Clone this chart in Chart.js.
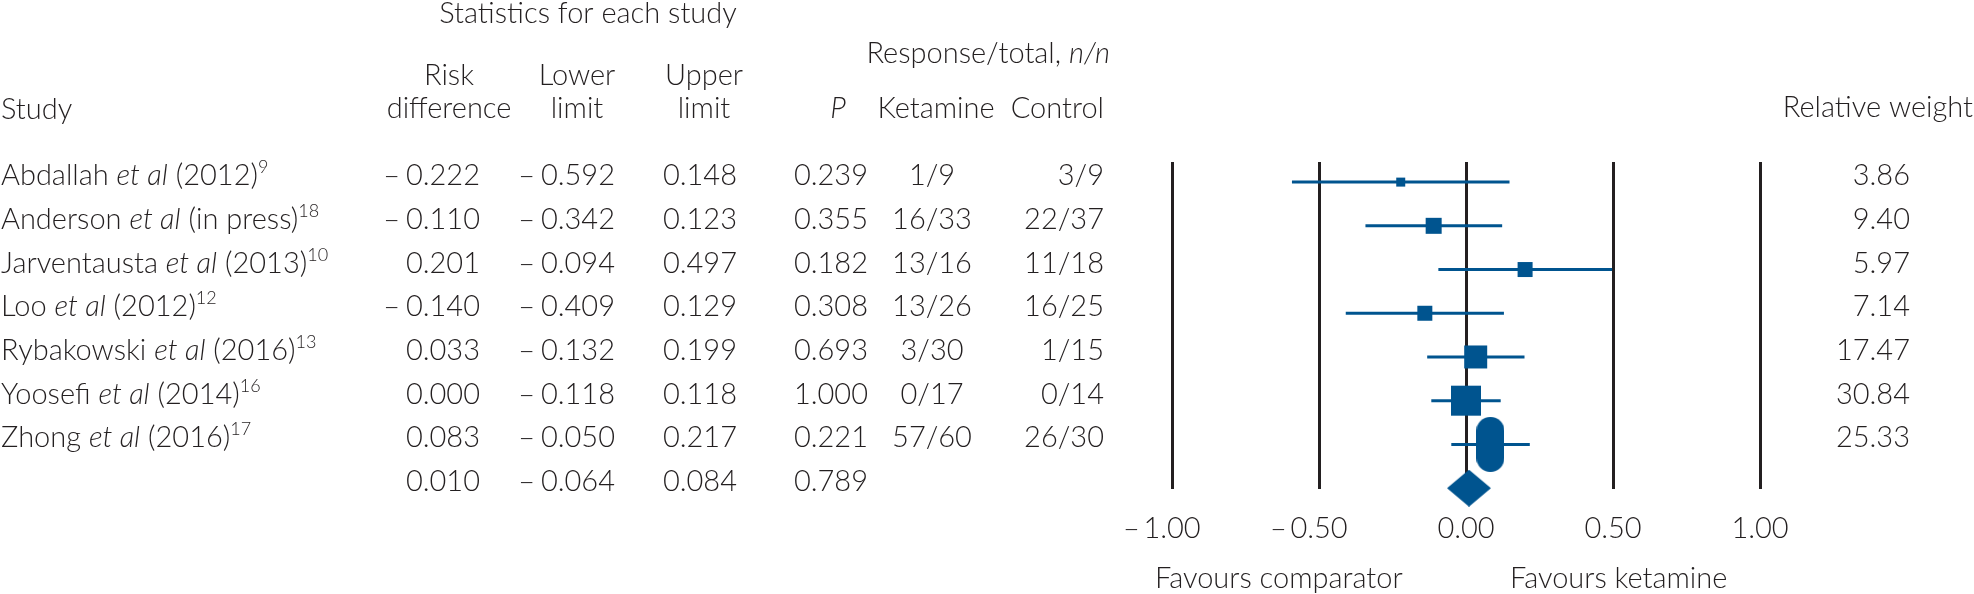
<!DOCTYPE html>
<html>
<head>
<meta charset="utf-8">
<title>Ketamine vs comparator - risk difference</title>
<script src="https://cdn.jsdelivr.net/npm/chart.js@4.4.1/dist/chart.umd.min.js"></script>
<style>
  html, body { margin: 0; padding: 0; background: #fff; }
  #wrap { position: relative; width: 1974px; height: 594px; }
</style>
</head>
<body>
<div id="wrap"><canvas id="forest"></canvas></div>
<script>
// study data
const studyNames = ['Abdallah', 'Anderson', 'Jarventausta', 'Loo', 'Rybakowski', 'Yoosefi', 'Zhong'];
const studyYears = ['(2012)', '(in press)', '(2013)', '(2012)', '(2016)', '(2014)', '(2016)'];
const studyRefs = ['9', '18', '10', '12', '13', '16', '17'];
const riskDiff = [-0.222, -0.110, 0.201, -0.140, 0.033, 0.000, 0.083];
const lowerLimit = [-0.592, -0.342, -0.094, -0.409, -0.132, -0.118, -0.050];
const upperLimit = [0.148, 0.123, 0.497, 0.129, 0.199, 0.118, 0.217];
const pValues = [0.239, 0.355, 0.182, 0.308, 0.693, 1.000, 0.221];
const ketamineResp = ['1/9', '16/33', '13/16', '13/26', '3/30', '0/17', '57/60'];
const controlResp = ['3/9', '22/37', '11/18', '16/25', '1/15', '0/14', '26/30'];
const relWeight = [3.86, 9.40, 5.97, 7.14, 17.47, 30.84, 25.33];

// pooled estimate
const summaryRisk = 0.010;
const summaryLower = -0.064;
const summaryUpper = 0.084;
const summaryP = 0.789;

const axisTicks = [-1, -0.5, 0, 0.5, 1];

// look
const ink = '#231f20';
const markColor = '#00548f';
const fontFamily = 'Lato, "Liberation Sans", Arial, sans-serif';
const fontWeight = 300;
const textSize = 29;
const supSize = 18;
const minusSign = '\u2013';
const markerSide = [9, 16, 15, 15, 23, 30, 28];
const capsuleHeight = 55;
const diamondHeight = 37;

const font = (size, italic) => (italic ? 'italic ' : '') + fontWeight + ' ' + size + 'px ' + fontFamily;

const makeCapsule = (w, h) => {
    const c = document.createElement('canvas');
    c.width = w;
    c.height = h;
    const g = c.getContext('2d');
    g.fillStyle = markColor;
    g.beginPath();
    g.roundRect(0, 0, w, h, w / 2);
    g.fill();
    return c;
};

let diamondCache = null;
const diamondStyle = (context) => {
    const x = context.chart.scales.x;
    const w = Math.round(x.getPixelForValue(summaryUpper) - x.getPixelForValue(summaryLower));
    if (diamondCache && diamondCache.width === w) return diamondCache;
    const c = document.createElement('canvas');
    c.width = w;
    c.height = diamondHeight;
    const g = c.getContext('2d');
    g.fillStyle = markColor;
    g.beginPath();
    g.moveTo(0, diamondHeight / 2);
    g.lineTo(w / 2, 0);
    g.lineTo(w, diamondHeight / 2);
    g.lineTo(w / 2, diamondHeight);
    g.closePath();
    g.fill();
    diamondCache = c;
    return c;
};

const capsule = makeCapsule(markerSide[6], capsuleHeight);
const summaryRow = studyNames.length + 1;

// error bars, one small line per study
const ciSets = studyNames.map((name, i) => ({
    label: name + ' CI',
    data: [{ x: lowerLimit[i], y: i + 1 }, { x: upperLimit[i], y: i + 1 }],
    showLine: true,
    borderColor: markColor,
    borderWidth: 3,
    pointRadius: 0,
    order: 2
}));

const pointSet = {
    label: 'Risk difference',
    data: riskDiff.map((v, i) => ({ x: v, y: i + 1 })),
    pointStyle: riskDiff.map((v, i) => (i === 6 ? capsule : 'rect')),
    pointRadius: markerSide.map(s => s / Math.SQRT2),
    backgroundColor: markColor,
    borderWidth: 0,
    order: 0
};

const diamondSet = {
    label: 'Pooled',
    data: [{ x: summaryRisk, y: summaryRow }],
    pointStyle: diamondStyle,
    pointRadius: 10,
    backgroundColor: markColor,
    borderWidth: 0,
    clip: false,
    order: 0
};

const fmt = (v, digits) => Math.abs(v).toFixed(digits);

const drawSigned = (ctx, v, digits, right, y) => {
    ctx.font = font(textSize);
    ctx.textAlign = 'right';
    const s = fmt(v, digits);
    ctx.fillText(s, right, y);
    if (v < 0) ctx.fillText(minusSign, right - ctx.measureText(s).width - 6, y);
};

// parts: {t, it, sup}
const drawParts = (ctx, parts, x, y, align) => {
    const widths = parts.map(p => {
        ctx.font = font(p.sup ? supSize : textSize, p.it);
        return ctx.measureText(p.t).width;
    });
    const total = widths.reduce((a, b) => a + b, 0);
    let cx = align === 'right' ? x - total : align === 'center' ? x - total / 2 : x;
    ctx.textAlign = 'left';
    parts.forEach((p, i) => {
        ctx.font = font(p.sup ? supSize : textSize, p.it);
        ctx.fillText(p.t, cx, p.sup ? y - 12 : y);
        cx += widths[i];
    });
};

const tablePlugin = {
    id: 'studyTable',
    afterDraw(chart) {
        const ctx = chart.ctx;
        const yScale = chart.scales.y;
        ctx.save();
        ctx.fillStyle = ink;
        ctx.textBaseline = 'alphabetic';

        // headers
        drawParts(ctx, [{ t: 'Statistics for each study' }], 588, 23, 'center');
        drawParts(ctx, [{ t: 'Response/total, ' }, { t: 'n/n', it: true }], 1110, 63, 'right');
        drawParts(ctx, [{ t: 'Risk' }], 449, 85, 'center');
        drawParts(ctx, [{ t: 'difference' }], 449, 118, 'center');
        drawParts(ctx, [{ t: 'Lower' }], 577, 85, 'center');
        drawParts(ctx, [{ t: 'limit' }], 577, 118, 'center');
        drawParts(ctx, [{ t: 'Upper' }], 704, 85, 'center');
        drawParts(ctx, [{ t: 'limit' }], 704, 118, 'center');
        drawParts(ctx, [{ t: 'Study' }], 1, 119, 'left');
        drawParts(ctx, [{ t: 'P', it: true }], 838, 118, 'center');
        drawParts(ctx, [{ t: 'Ketamine' }], 936, 118, 'center');
        drawParts(ctx, [{ t: 'Control' }], 1104, 118, 'right');
        drawParts(ctx, [{ t: 'Relative weight' }], 1973, 117, 'right');

        // study rows
        studyNames.forEach((name, i) => {
            const y = yScale.getPixelForValue(i + 1) + 3;
            drawParts(ctx, [
                { t: name + ' ' },
                { t: 'et al', it: true },
                { t: ' ' + studyYears[i] },
                { t: studyRefs[i], sup: true }
            ], 1, y, 'left');
            drawSigned(ctx, riskDiff[i], 3, 480, y);
            drawSigned(ctx, lowerLimit[i], 3, 615, y);
            drawSigned(ctx, upperLimit[i], 3, 737, y);
            drawSigned(ctx, pValues[i], 3, 868, y);
            drawParts(ctx, [{ t: ketamineResp[i] }], 932, y, 'center');
            drawParts(ctx, [{ t: controlResp[i] }], 1104, y, 'right');
            drawParts(ctx, [{ t: relWeight[i].toFixed(2) }], 1910, y, 'right');
        });

        // pooled row
        const ys = yScale.getPixelForValue(summaryRow) + 3;
        drawSigned(ctx, summaryRisk, 3, 480, ys);
        drawSigned(ctx, summaryLower, 3, 615, ys);
        drawSigned(ctx, summaryUpper, 3, 737, ys);
        drawSigned(ctx, summaryP, 3, 868, ys);

        drawParts(ctx, [{ t: 'Favours comparator' }], 1155, 588, 'left');
        drawParts(ctx, [{ t: 'Favours ketamine' }], 1510, 588, 'left');
        ctx.restore();
    }
};

const canvas = document.getElementById('forest');
new Chart(canvas.getContext('2d'), {
    type: 'scatter',
    data: { datasets: [pointSet, diamondSet, ...ciSets] },
    options: {
        responsive: true,
        maintainAspectRatio: false,
        animation: false,
        events: [],
        layout: { padding: { left: 1172, right: 214, top: 162, bottom: 35 } },
        plugins: { legend: { display: false }, tooltip: { enabled: false } },
        scales: {
            x: {
                type: 'linear',
                min: axisTicks[0],
                max: axisTicks[axisTicks.length - 1],
                afterFit: (scale) => { scale.height = 70; },
                afterBuildTicks: (scale) => { scale.ticks = axisTicks.map(v => ({ value: v })); },
                grid: { color: ink, lineWidth: 3, drawTicks: false },
                border: { display: false },
                ticks: {
                    padding: 22,
                    maxRotation: 0,
                    autoSkip: false,
                    color: ink,
                    font: { family: fontFamily, size: textSize, weight: fontWeight },
                    callback: v => (v < 0 ? minusSign + '\u2009' + fmt(v, 2) + '\u2009\u2007' : fmt(v, 2))
                }
            },
            y: {
                type: 'linear',
                display: false,
                reverse: true,
                min: 0.54,
                max: 8.02
            }
        }
    },
    plugins: [tablePlugin]
});
</script>
</body>
</html>
